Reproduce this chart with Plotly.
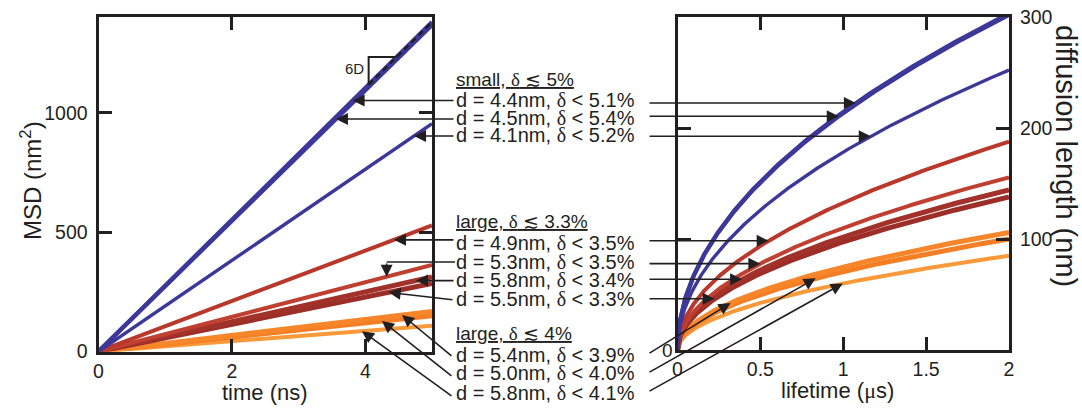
import numpy as np
import plotly.graph_objects as go

# ---- data -------------------------------------------------------------
diameters = ["4.4", "4.5", "4.1", "4.9", "5.3", "5.8", "5.5", "5.4", "5.0", "5.8"]
deltas = ["5.1", "5.4", "5.2", "3.5", "3.5", "3.4", "3.3", "3.9", "4.0", "4.1"]
# diffusion coefficient of each sample (nm^2/ns)
diff_coef = [46.0, 45.6, 31.8, 17.6, 12.1, 10.4, 9.5, 5.6, 5.0, 3.6]
groups = ["small, δ ≲ 5%", "large, δ ≲ 3.3%", "large, δ ≲ 4%"]

time_ns = [0.0, 5.0]                     # MSD time window
lifetime_us = np.linspace(0.0, 2.0, 401)  # exciton lifetime grid

msd_ticks = [0, 500, 1000]
time_ticks = [0, 2, 4]
life_ticks = [0, 0.5, 1, 1.5, 2]
life_tick_text = ["0", "0.5", "1", "1.5", "2"]
len_ticks = [100, 200, 300]

# where the annotation arrows touch each curve
arrow_t = [3.81, 3.56, 4.73, 4.43, 4.32, 4.76, 4.35, 4.55, 4.25, 3.95]
arrow_tau = [1.076, 0.973, 1.166, 0.55, 0.50, 0.39, 0.224, 0.32, 0.834, 0.997]

# ---- styles -------------------------------------------------------------
colors = ["#3b3899", "#3b3899", "#3b3899",
          "#b9372b", "#bf4030", "#a2312a", "#9c2d27",
          "#f7862a", "#f47e24", "#f99a3a"]
widths = [4.2, 4.2, 3.4, 4, 4, 5, 5, 5, 5, 4]
draw_order = [9, 8, 7, 6, 5, 4, 3, 2, 1, 0]

INK = "#231f20"
FONT = "Liberation Sans, Arial, sans-serif"
SERIF = "Liberation Serif"
W, H = 1082, 408

# plot frames in pixels
LX0, LX1, LY0, LY1 = 98.5, 432.0, 351.5, 17.3
RX0, RX1, RY0, RY1 = 677.5, 1009.0, 350.0, 17.0
MSD_MAX, T_MAX, L_MAX, TAU_MAX = 1400, 5, 300, 2


def px_left(px, py):
    return (px - LX0) / (LX1 - LX0) * T_MAX, (LY0 - py) / (LY0 - LY1) * MSD_MAX


def px_right(px, py):
    return (px - RX0) / (RX1 - RX0) * TAU_MAX, (RY0 - py) / (RY0 - RY1) * L_MAX


def to_px_left(t, m):
    return LX0 + t / T_MAX * (LX1 - LX0), LY0 - m / MSD_MAX * (LY0 - LY1)


def to_px_right(tau, L):
    return RX0 + tau / TAU_MAX * (RX1 - RX0), RY0 - L / L_MAX * (RY0 - RY1)


def delta(s):
    return '<span style="font-family:%s">δ</span>' % SERIF + s


fig = go.Figure()

for i in draw_order:
    D = diff_coef[i]
    fig.add_trace(go.Scatter(
        x=time_ns, y=[6 * D * t for t in time_ns], mode="lines",
        line=dict(color=colors[i], width=widths[i]), xaxis="x", yaxis="y",
        showlegend=False, hoverinfo="skip"))
    fig.add_trace(go.Scatter(
        x=lifetime_us, y=np.sqrt(D * lifetime_us * 1000.0), mode="lines",
        line=dict(color=colors[i], width=widths[i]), xaxis="x2", yaxis="y2",
        showlegend=False, hoverinfo="skip"))

# fitted slope (dashed) and its 6D triangle on the fastest sample
D0 = diff_coef[0]
t_fit = [4.05, 5.0]
fig.add_trace(go.Scatter(
    x=t_fit, y=[6 * D0 * t for t in t_fit], mode="lines",
    line=dict(color=INK, width=2.5, dash="6px,4px"), xaxis="x", yaxis="y",
    showlegend=False, hoverinfo="skip"))
t1, t2 = 4.05, 4.47
fig.add_trace(go.Scatter(
    x=[t1, t1, t2], y=[6 * D0 * t1, 6 * D0 * t2, 6 * D0 * t2], mode="lines",
    line=dict(color=INK, width=2), xaxis="x", yaxis="y",
    showlegend=False, hoverinfo="skip"))

ann = []
ann.append(dict(x=t1, y=6 * D0 * (t1 + t2) / 2 + 10, xref="x", yref="y",
                text="6D", showarrow=False, xanchor="right", yanchor="middle",
                xshift=-3, font=dict(size=15, color=INK, family=FONT)))


def ptext(px, py, text, size, **kw):
    d = dict(x=px / W, y=1 - py / H, xref="paper", yref="paper", text=text,
             showarrow=False, xanchor="center", yanchor="middle",
             font=dict(size=size, color=INK, family=FONT))
    d.update(kw)
    return d


# group headings and sample labels
LABEL_X = 454
head_y = [80, 222, 333]
for g, y in zip(groups, head_y):
    t = g.replace("δ", '<span style="font-family:%s">δ</span>' % SERIF)
    ann.append(ptext(LABEL_X, y, t, 19, xanchor="left",
                     font=dict(size=19, color=INK, family=FONT, lineposition="under")))

label_y = [100, 118, 135, 243, 262, 280, 299, 355, 373, 393]
for i in range(len(diameters)):
    t = "d = %snm, %s" % (diameters[i], delta(" &lt; %s%%" % deltas[i]))
    ann.append(ptext(LABEL_X, label_y[i], t, 20, xanchor="left"))

arrow_style = dict(showarrow=True, arrowhead=2, arrowsize=1.5, arrowwidth=1.6,
                   arrowcolor=INK, text="", standoff=0)

shapes = []
TAIL_L, TAIL_R = 455, 648
left_diag = {6: (454, 300), 7: (453, 357), 8: (453, 377), 9: (453, 397)}
right_diag = {7: (648, 354), 8: (648, 373), 9: (648, 392)}

for i in range(len(diameters)):
    D = diff_coef[i]
    # left panel
    t = arrow_t[i]
    m = 6 * D * t
    hx, hy = to_px_left(t, m)
    if i == 4:
        elbow_y = 262
        shapes.append(dict(type="line", xref="paper", yref="paper",
                           x0=TAIL_L / W, x1=hx / W, y0=1 - elbow_y / H, y1=1 - elbow_y / H,
                           line=dict(color=INK, width=1.6)))
        tx, ty = px_left(hx, elbow_y)
    elif i in left_diag:
        tx, ty = px_left(*left_diag[i])
    else:
        tx, ty = px_left(TAIL_L, hy)
    ann.append(dict(x=t, y=m, xref="x", yref="y", ax=tx, ay=ty, axref="x", ayref="y",
                    **arrow_style))
    # right panel
    tau = arrow_tau[i]
    L = np.sqrt(D * tau * 1000.0)
    hx, hy = to_px_right(tau, L)
    if i in right_diag:
        tx, ty = px_right(*right_diag[i])
    else:
        tx, ty = px_right(TAIL_R, hy)
    ann.append(dict(x=tau, y=float(L), xref="x2", yref="y2", ax=tx, ay=ty,
                    axref="x2", ayref="y2", **arrow_style))

# axis titles
ann.append(ptext(31, 180, "MSD (nm<sup>2</sup>)", 24, textangle=-90))
ann.append(ptext(265, 392, "time (ns)", 22))
ann.append(ptext(837, 390, 'lifetime (<span style="font-family:%s">μ</span>s)' % SERIF, 22))
ann.append(ptext(1066, 156, "diffusion length (nm)", 29, textangle=90))
ann.append(ptext(667, 350, "0", 19))

axis_common = dict(showgrid=False, zeroline=False, showline=True, linewidth=3,
                   linecolor=INK, mirror="ticks", ticks="inside", ticklen=13,
                   tickwidth=3, tickcolor=INK, automargin=False,
                   tickfont=dict(size=19.5, color=INK, family=FONT))

fig.update_layout(
    template="none",
    width=W, height=H, autosize=False,
    margin=dict(l=0, r=0, t=0, b=0, pad=0),
    paper_bgcolor="white", plot_bgcolor="white",
    showlegend=False,
    font=dict(family=FONT, color=INK),
    xaxis=dict(domain=[LX0 / W, LX1 / W], range=[0, T_MAX], tickvals=time_ticks,
               anchor="y", **axis_common),
    yaxis=dict(domain=[1 - LY0 / H, 1 - LY1 / H], range=[0, MSD_MAX], tickvals=msd_ticks,
               anchor="x", ticklabelstandoff=4, **axis_common),
    xaxis2=dict(domain=[RX0 / W, RX1 / W], range=[0, TAU_MAX], tickvals=life_ticks,
                ticktext=life_tick_text, anchor="y2", **axis_common),
    yaxis2=dict(domain=[1 - RY0 / H, 1 - RY1 / H], range=[0, L_MAX], tickvals=len_ticks,
                anchor="x2", side="right", ticklabelstandoff=4, **axis_common),
    annotations=ann,
    shapes=shapes,
)

fig.write_html("out.html")
